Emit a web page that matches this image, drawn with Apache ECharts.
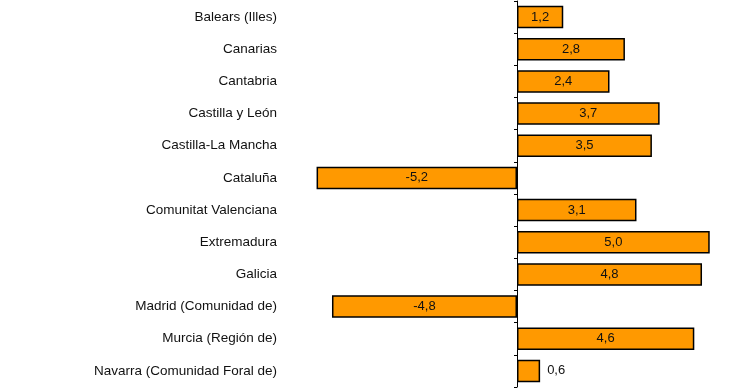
<!DOCTYPE html>
<html><head><meta charset="utf-8">
<script src="https://cdn.jsdelivr.net/npm/echarts@6/dist/echarts.min.js"></script>
<style>html,body{margin:0;padding:0;background:#fff}#c{width:740px;height:389px}</style>
</head><body><div id="c"></div>
<script>
const categories = ["Balears (Illes)","Canarias","Cantabria","Castilla y León","Castilla-La Mancha","Cataluña","Comunitat Valenciana","Extremadura","Galicia","Madrid (Comunidad de)","Murcia (Región de)","Navarra (Comunidad Foral de)"];
const values = [1.2, 2.8, 2.4, 3.7, 3.5, -5.2, 3.1, 5.0, 4.8, -4.8, 4.6, 0.6];
const outsideLabel = ["Navarra (Comunidad Foral de)"];

const fmt = v => v.toFixed(1).replace('.', ',');
const chart = echarts.init(document.getElementById('c'));
chart.setOption({
  animation: false,
  grid: {left: 305, width: 424, top: 1, height: 386, containLabel: false, outerBoundsMode: 'none'},
  xAxis: {type: 'value', min: -5.5, max: 5.5, show: false},
  yAxis: {
    type: 'category', data: categories, inverse: true,
    axisLine: {onZero: true, lineStyle: {color: '#000', width: 1}},
    axisTick: {show: true, length: 3, lineStyle: {color: '#000'}},
    axisLabel: {margin: 28, color: '#111', fontFamily: 'Liberation Sans, Arial, sans-serif', fontSize: 13.5}
  },
  series: [{
    type: 'bar',
    barCategoryGap: '30%',
    data: values.map((v, i) => ({
      value: v,
      label: outsideLabel.includes(categories[i]) ? {position: 'right', distance: 7} : {position: 'inside'}
    })),
    itemStyle: {color: '#FF9900', borderColor: '#000', borderWidth: 1.5},
    label: {show: true, formatter: p => fmt(p.value), color: '#111', fontFamily: 'Liberation Sans, Arial, sans-serif', fontSize: 13}
  }]
});
</script></body></html>
